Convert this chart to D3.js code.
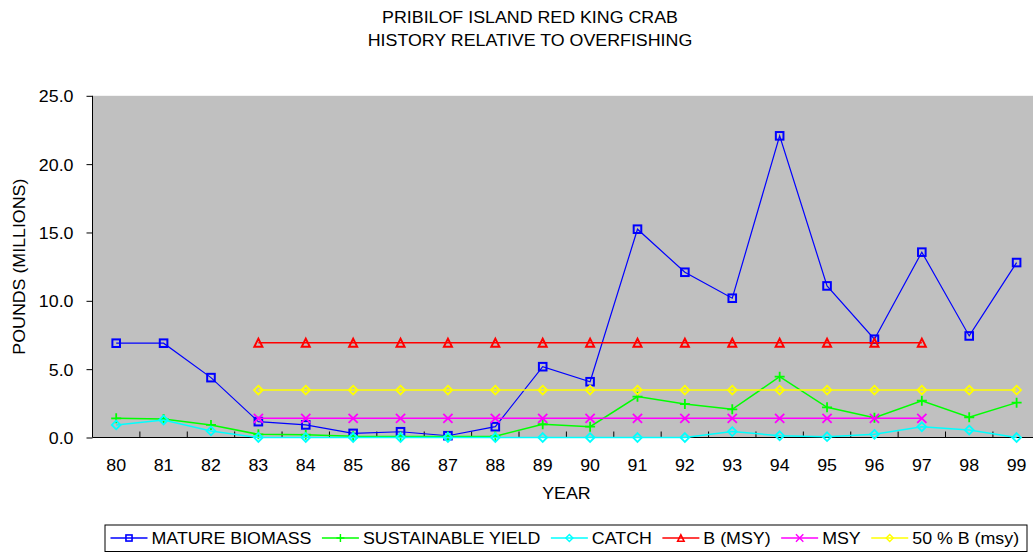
<!DOCTYPE html>
<html>
<head>
<meta charset="utf-8">
<script src="https://cdn.jsdelivr.net/npm/d3@7"></script>
<style>
  html, body { margin: 0; padding: 0; background: #fff; }
  svg { display: block; font-family: "Liberation Sans", Arial, sans-serif; }
</style>
</head>
<body>
<svg id="chart" width="1033" height="555"></svg>
<script>
// Pribilof Island red king crab, pounds (millions) by year
const years = ["80","81","82","83","84","85","86","87","88","89","90","91","92","93","94","95","96","97","98","99"];
const matureBiomass = [6.9, 6.9, 4.38, 1.16, 0.92, 0.3, 0.42, 0.13, 0.79, 5.18, 4.08, 15.24, 12.09, 10.19, 22.07, 11.09, 7.19, 13.56, 7.43, 12.8];
const sustainableYield = [1.4, 1.35, 0.92, 0.23, 0.2, 0.1, 0.08, 0.08, 0.1, 0.97, 0.79, 2.99, 2.45, 2.06, 4.45, 2.21, 1.45, 2.69, 1.48, 2.55];
const catchLbs = [0.92, 1.28, 0.48, 0, 0, 0, 0, 0, 0, 0, 0, 0, 0, 0.43, 0.13, 0.06, 0.23, 0.79, 0.55, 0];
const bMsy = [null, null, null, 6.94, 6.94, 6.94, 6.94, 6.94, 6.94, 6.94, 6.94, 6.94, 6.94, 6.94, 6.94, 6.94, 6.94, 6.94, null, null];
const msy = [null, null, null, 1.4, 1.4, 1.4, 1.4, 1.4, 1.4, 1.4, 1.4, 1.4, 1.4, 1.4, 1.4, 1.4, 1.4, 1.4, null, null];
const halfBMsy = [null, null, null, 3.47, 3.47, 3.47, 3.47, 3.47, 3.47, 3.47, 3.47, 3.47, 3.47, 3.47, 3.47, 3.47, 3.47, 3.47, 3.47, 3.47];
const yTicks = [0, 5, 10, 15, 20, 25];

const seriesNames = ["MATURE BIOMASS", "SUSTAINABLE YIELD", "CATCH", "B (MSY)", "MSY", "50 % B (msy)"];
const seriesColors = ["#0000ff", "#00ff00", "#00ffff", "#ff0000", "#ff00ff", "#ffff00"];
const seriesMarkers = ["square", "plus", "diamond", "triangle", "cross", "diamond"];
const seriesValues = [matureBiomass, sustainableYield, catchLbs, bMsy, msy, halfBMsy];
const seriesWidths = [1.2, 1.5, 1.5, 1.5, 1.5, 1.5];

const FONT = 16.5;     // text size
const STRETCH = 1.08;  // slightly wide lettering

const svg = d3.select("#chart");
const plot = { left: 92.5, top: 95.8, right: 1040.3, bottom: 437.5 };

const x = d3.scaleBand().domain(years).range([plot.left, plot.right]).padding(0);
const y = d3.scaleLinear().domain([0, 25]).range([plot.bottom, plot.top]);
const cx = d => x(d) + x.bandwidth() / 2;

// text placed at (tx, ty) with a horizontal stretch
function label(parent, tx, ty, str, anchor) {
  return parent.append("text")
    .attr("transform", `translate(${tx},${ty}) scale(${STRETCH},1)`)
    .attr("text-anchor", anchor || "start")
    .attr("font-size", FONT).attr("fill", "#000")
    .text(str);
}

// plot area background
svg.append("rect")
  .attr("x", plot.left).attr("y", plot.top)
  .attr("width", plot.right - plot.left).attr("height", plot.bottom - plot.top)
  .attr("fill", "#c0c0c0");

// titles
label(svg, 530, 23, "PRIBILOF ISLAND RED KING CRAB", "middle");
label(svg, 530, 46, "HISTORY RELATIVE TO OVERFISHING", "middle");

// y axis
const yAxis = d3.axisLeft(y).tickValues(yTicks).tickFormat(d3.format(".1f")).tickSize(6);
const gy = svg.append("g").attr("transform", `translate(${plot.left},0)`).call(yAxis);
gy.select(".domain").attr("stroke", "#000").attr("d", `M0,${plot.top}V${plot.bottom}`);
gy.selectAll(".tick line").attr("stroke", "#000");
gy.selectAll(".tick text").remove();
gy.selectAll(".tick").each(function (d) {
  label(d3.select(this), -19, 6, d3.format(".1f")(d), "end");
});

// x axis: tick marks at category boundaries pointing into the plot
const gx = svg.append("g").attr("transform", `translate(0,${plot.bottom})`);
gx.append("line").attr("x1", plot.left).attr("x2", plot.right).attr("stroke", "#000").attr("stroke-width", 1.2);
gx.selectAll("line.tick").data(years.slice(1)).join("line")
  .attr("class", "tick")
  .attr("x1", d => x(d)).attr("x2", d => x(d))
  .attr("y1", 0).attr("y2", -6).attr("stroke", "#000");
years.forEach(d => label(gx, cx(d), 33, d, "middle"));

// axis titles
label(svg, (plot.left + plot.right) / 2, 499, "YEAR", "middle");
svg.append("text").attr("transform", `translate(25,${(plot.top + plot.bottom) / 2}) rotate(-90) scale(${STRETCH},1)`)
  .attr("text-anchor", "middle").attr("font-size", FONT).text("POUNDS (MILLIONS)");

// marker shapes
function marker(sel, type, color) {
  if (type === "square") {
    const s = 3.8;
    sel.append("rect").attr("x", -s).attr("y", -s).attr("width", 2 * s).attr("height", 2 * s)
      .attr("fill", "none").attr("stroke", color).attr("stroke-width", 2);
  } else if (type === "diamond") {
    const s = 4.4;
    sel.append("path").attr("d", `M0,${-s}L${s},0L0,${s}L${-s},0Z`)
      .attr("fill", "none").attr("stroke", color).attr("stroke-width", 1.8);
  } else if (type === "triangle") {
    const s = 4;
    sel.append("path").attr("d", `M0,${-s}L${s},${s}L${-s},${s}Z`)
      .attr("fill", "none").attr("stroke", color).attr("stroke-width", 2);
  } else if (type === "plus") {
    const s = 5;
    sel.append("path").attr("d", `M${-s},0H${s}M0,${-s}V${s}`)
      .attr("stroke", color).attr("stroke-width", 1.8);
  } else if (type === "cross") {
    const s = 4.6;
    sel.append("path").attr("d", `M${-s},${-s}L${s},${s}M${-s},${s}L${s},${-s}`)
      .attr("stroke", color).attr("stroke-width", 1.8);
  }
}

const line = d3.line().defined(d => d.v !== null).x(d => cx(d.year)).y(d => y(d.v));

seriesValues.forEach((vals, i) => {
  const pts = years.map((yr, j) => ({ year: yr, v: vals[j] }));
  const g = svg.append("g");
  g.append("path").datum(pts).attr("d", line)
    .attr("fill", "none").attr("stroke", seriesColors[i]).attr("stroke-width", seriesWidths[i]);
  g.selectAll("g.m").data(pts.filter(d => d.v !== null)).join("g")
    .attr("class", "m")
    .attr("transform", d => `translate(${cx(d.year)},${y(d.v)})`)
    .each(function () { marker(d3.select(this), seriesMarkers[i], seriesColors[i]); });
});

// legend
const legend = svg.append("g");
legend.append("rect").attr("x", 105).attr("y", 525).attr("width", 922).attr("height", 26.5)
  .attr("fill", "#fff").attr("stroke", "#000").attr("stroke-width", 1);
let lx = 110.5;
const ly = 538;
seriesNames.forEach((name, i) => {
  const item = legend.append("g");
  item.append("line").attr("x1", lx).attr("x2", lx + 37).attr("y1", ly).attr("y2", ly)
    .attr("stroke", seriesColors[i]).attr("stroke-width", 1.3);
  const m = item.append("g").attr("transform", `translate(${lx + 18.5},${ly}) scale(0.8)`);
  marker(m, seriesMarkers[i], seriesColors[i]);
  const t = label(item, lx + 41, ly + 6, name, "start");
  lx += 41 + t.node().getComputedTextLength() * STRETCH + 10.5;
});
</script>
</body>
</html>
